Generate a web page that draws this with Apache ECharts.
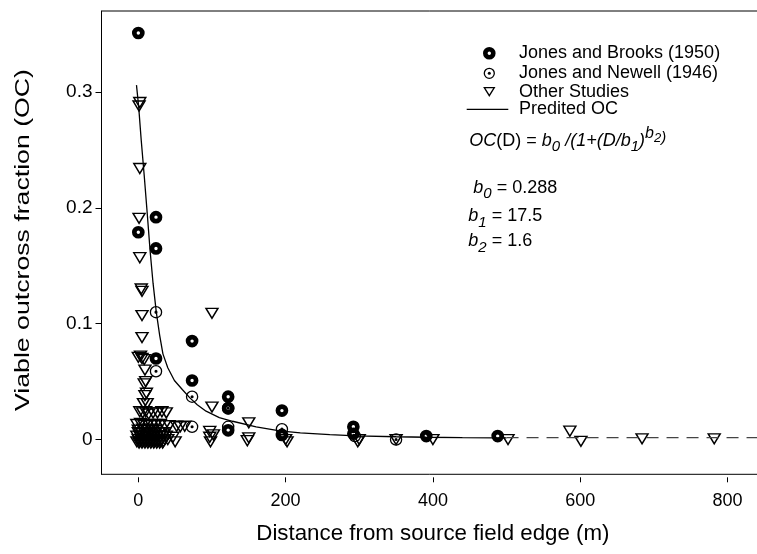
<!DOCTYPE html>
<html><head><meta charset="utf-8">
<script src="https://cdn.jsdelivr.net/npm/echarts@6/dist/echarts.min.js"></script>
<style>html,body{margin:0;padding:0;background:#fff}#c{width:757px;height:554px}</style>
</head><body><div id="c"></div>
<script>
// ---------- data ----------
const xTicks = [0, 200, 400, 600, 800];
const yTicks = [0, 0.1, 0.2, 0.3];
const xTitle = 'Distance from source field edge (m)';
const yTitle = 'Viable outcross fraction (OC)';

const seriesNames = ['Jones and Brooks (1950)', 'Jones and Newell (1946)', 'Other Studies', 'Predited OC'];

const brooks = [[0,0.351],[24,0.192],[0,0.179],[24,0.165],[73,0.085],[24,0.070],[73,0.051],
  [122,0.037],[122,0.027],[122,0.008],[195,0.025],[195,0.004],[292,0.011],[292,0.005],[391,0.003],[488,0.003]];

const newell = [[24,0.110],[24,0.059],[73,0.037],[122,0.027],[73,0.011],[122,0.011],[195,0.009],[294,0.003],[350,0.0]];

const other = [[2,0.291],[1,0.288],[2,0.234],[1,0.191],[2,0.157],[4,0.130],[5,0.128],[5,0.107],[5,0.088],
  [100,0.109],[0,0.071],[5,0.070],[8,0.069],[3,0.072],[9,0.060],[10,0.050],[8,0.048],[11,0.040],[9,0.038],
  [7,0.031],[12,0.031],
  [2,0.024],[6,0.023],[10,0.024],[14,0.022],[20,0.023],[26,0.023],[32,0.024],[38,0.023],
  [100,0.028],
  [-2,0.013],[3,0.014],[8,0.012],[13,0.013],[18,0.012],[24,0.013],[30,0.013],[36,0.012],[42,0.012],
  [52,0.0115],[57,0.011],[63,0.0115],[150,0.0144],
  [0,0.008],[6,0.009],[12,0.008],[18,0.009],[24,0.008],
  [0,0.006],[4,0.006],[8,0.006],[12,0.006],[16,0.006],[20,0.006],[24,0.006],[28,0.006],[32,0.006],[36,0.006],
  [-2,0.003],[2,0.003],[6,0.003],[10,0.003],[14,0.003],[18,0.003],[22,0.003],[26,0.003],[30,0.003],[34,0.003],[38,0.003],
  [0,0.0],[4,0.0],[8,0.0],[12,0.0],[16,0.0],[20,0.0],[24,0.0],[28,0.0],[32,0.0],[36,0.0],[40,0.0],
  [-2,-0.002],[2,-0.002],[6,-0.002],[10,-0.002],[14,-0.002],[18,-0.002],[22,-0.002],[26,-0.002],[30,-0.002],[34,-0.002],
  [1,-0.003],[5,-0.003],[9,-0.003],[13,-0.003],[17,-0.003],[21,-0.003],[25,-0.003],[29,-0.003],[33,-0.003],
  [47,0.002],[50,-0.002],[97,0.007],[97,0.002],[98,-0.002],[102,0.004],[150,0.0015],[148,-0.001],
  [200,0.0],[202,-0.002],[300,0.0],[298,-0.002],[350,0.0],[400,0.0],[502,0.0],
  [586,0.0072],[601,-0.0015],[684,0.0006],[782,0.0006]];

const predicted = [[-2.5,0.306],[0.4,0.288],[4,0.258],[8,0.228],[12,0.196],[16,0.163],[20,0.135],[24.4,0.110],
  [29,0.090],[33.4,0.074],[40,0.062],[49,0.051],[60,0.043],[70,0.036],[80,0.030],[92,0.0245],[110,0.019],
  [128,0.0158],[160,0.011],[192,0.0075],[220,0.0058],[260,0.0042],[296,0.0031],[350,0.0024],[391,0.002],
  [440,0.0017],[486,0.0015],[500,0.0015]];
const predictedExt = [[500,0.0017],[850,0.0016]];

// ---------- styling ----------
const FONT = '"Liberation Sans", Arial, Helvetica, sans-serif';
const PATH_BROOKS = 'path://M6,0 A6,6 0 1,1 -6,0 A6,6 0 1,1 6,0 Z M1.6,0 A1.6,1.6 0 1,0 -1.6,0 A1.6,1.6 0 1,0 1.6,0 Z';
const PATH_NEWELL = 'path://M6,0 A6,6 0 1,1 -6,0 A6,6 0 1,1 6,0 Z M4.75,0 A4.75,4.75 0 1,0 -4.75,0 A4.75,4.75 0 1,0 4.75,0 Z M1.5,0 A1.5,1.5 0 1,1 -1.5,0 A1.5,1.5 0 1,1 1.5,0 Z';
const PATH_TRI = 'path://M-6,-5 L6,-5 L0,5 Z';

const chart = echarts.init(document.getElementById('c'), null, {renderer: 'canvas'});

const mctx = document.createElement('canvas').getContext('2d');
function fontStr(style, size) { return style + ' ' + size + 'px ' + FONT; }
function formulaRow(x0, baseline, parts) {
  const out = [];
  let x = x0;
  parts.forEach(p => {
    const [txt, style, size, dy] = p;
    const f = fontStr(style, size);
    mctx.font = f;
    out.push({type: 'text', x: x, y: baseline + dy - 0.3465 * size, z: 10,
      style: {text: txt, font: f, fill: '#000', align: 'left', verticalAlign: 'middle'}});
    x += mctx.measureText(txt).width;
  });
  return out;
}

const graphics = [];
// legend
const legX = 519, legRows = [53.3, 73.3, 91.7, 109.3], legSym = 489.3;
seriesNames.forEach((n, i) => {
  graphics.push({type: 'text', x: legX, y: legRows[i], z: 10,
    style: {text: n, font: fontStr('normal', 18), fill: '#000', align: 'left', verticalAlign: 'middle'}});
});
graphics.push({type: 'circle', z: 10, shape: {cx: legSym, cy: legRows[0], r: 4}, style: {fill: '#fff', stroke: '#000', lineWidth: 4.6}});
graphics.push({type: 'circle', z: 10, shape: {cx: legSym, cy: legRows[1], r: 5}, style: {fill: '#fff', stroke: '#000', lineWidth: 1.3}});
graphics.push({type: 'circle', z: 10, shape: {cx: legSym, cy: legRows[1], r: 1.5}, style: {fill: '#000'}});
graphics.push({type: 'polygon', z: 10, shape: {points: [[legSym - 5, legRows[2] - 4], [legSym + 5, legRows[2] - 4], [legSym, legRows[2] + 4]]},
  style: {fill: 'none', stroke: '#000', lineWidth: 1.3}});
graphics.push({type: 'line', z: 10, shape: {x1: 466.7, y1: legRows[3], x2: 508.3, y2: legRows[3]}, style: {stroke: '#000', lineWidth: 1.2}});

// formula block
graphics.push(...formulaRow(469.3, 147.3, [
  ['OC','italic',18,0],['(D) = ','normal',18,0],['b','italic',18,0],['0','italic',15,5],
  [' /(1+(D/b','italic',18,0],['1','italic',15,5],[')','italic',18,0],['b','italic',16,-8],['2','italic',13,-4],[')','italic',15,-4]]));
graphics.push(...formulaRow(473.3, 194.3, [['b','italic',18,0],['0','italic',15,5],[' = 0.288','normal',18,0]]));
graphics.push(...formulaRow(468.3, 222.7, [['b','italic',18,0],['1','italic',15,5],[' = 17.5','normal',18,0]]));
graphics.push(...formulaRow(468.3, 247.7, [['b','italic',18,0],['2','italic',15,5],[' = 1.6','normal',18,0]]));

// y axis title (slightly stretched along its length, as in the reference)
graphics.push({type: 'text', x: 23, y: 240, rotation: Math.PI / 2, scaleX: 1.27, z: 10,
  style: {text: yTitle, font: fontStr('normal', 21), fill: '#000', align: 'center', verticalAlign: 'middle'}});

const option = {
  animation: false,
  backgroundColor: '#fff',
  textStyle: {fontFamily: FONT},
  grid: {left: 101.5, top: 11, right: -7.3, bottom: 79.7, show: true, borderColor: '#000', borderWidth: 1,
    backgroundColor: 'transparent', containLabel: false, outerBoundsMode: 'none'},
  xAxis: {
    type: 'value', min: -50, max: 850, offset: 3,
    name: xTitle, nameLocation: 'middle', nameGap: 46,
    nameTextStyle: {fontSize: 22.3, color: '#000', fontFamily: FONT},
    axisLine: {show: false, onZero: false},
    axisTick: {show: true, length: 5, customValues: xTicks, lineStyle: {color: '#000', width: 1}},
    axisLabel: {show: true, customValues: xTicks, fontSize: 18, color: '#000', margin: 15, fontFamily: FONT,
      formatter: v => String(v)},
    splitLine: {show: false}
  },
  yAxis: {
    type: 'value', min: -0.03, max: 0.37,
    axisLine: {show: true, onZero: false, lineStyle: {color: '#000', width: 1}},
    axisTick: {show: true, length: 6, customValues: yTicks, lineStyle: {color: '#000', width: 1}},
    axisLabel: {show: true, customValues: yTicks, fontSize: 19, color: '#000', margin: 9, fontFamily: FONT,
      formatter: v => String(v)},
    splitLine: {show: false}
  },
  series: [
    {name: seriesNames[2], type: 'scatter', data: other, z: 2, symbol: PATH_TRI, symbolSize: [12, 10],
      itemStyle: {color: 'rgba(0,0,0,0)', borderColor: '#000', borderWidth: 1.45, opacity: 1}, emphasis: {disabled: true}},
    {name: seriesNames[1], type: 'scatter', data: newell, z: 3, symbol: PATH_NEWELL, symbolSize: 12.5,
      itemStyle: {color: '#000', borderWidth: 0, opacity: 1}, emphasis: {disabled: true}},
    {name: seriesNames[0], type: 'scatter', data: brooks, z: 4, symbol: PATH_BROOKS, symbolSize: 12.7,
      itemStyle: {color: '#000', borderWidth: 0, opacity: 1}, emphasis: {disabled: true}},
    {name: seriesNames[3], type: 'line', data: predicted, z: 5, showSymbol: false, symbol: 'none', smooth: false,
      lineStyle: {color: '#000', width: 1.3}, emphasis: {disabled: true}},
    {name: seriesNames[3] + ' (extrapolated)', type: 'line', data: predictedExt, z: 5, showSymbol: false, symbol: 'none',
      lineStyle: {color: '#444', width: 1.3, type: [12, 8]}, emphasis: {disabled: true}}
  ],
  graphic: graphics
};
chart.setOption(option);
</script>
</body></html>
